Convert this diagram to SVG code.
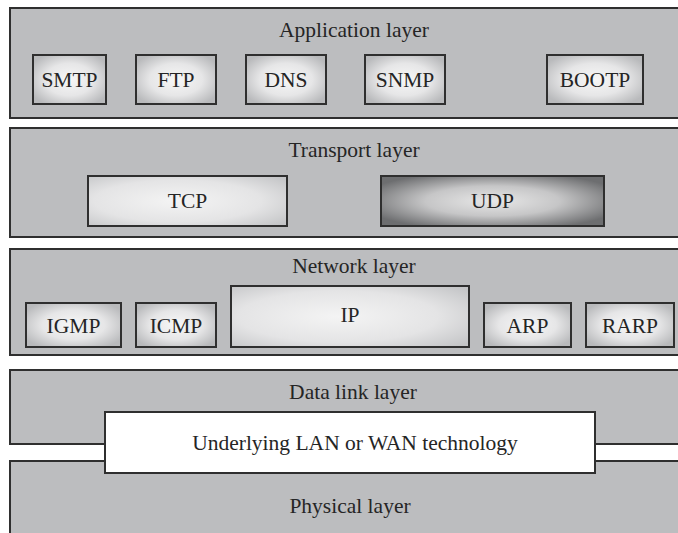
<svg xmlns="http://www.w3.org/2000/svg" width="678" height="533" viewBox="0 0 678 533">
<style>
.layer{fill:#bcbdbf;stroke:#2f2f2f;stroke-width:2}
.box{stroke:#2f2f2f;stroke-width:2}
.t{font-family:"Liberation Serif","Times New Roman",serif;font-size:21.5px;fill:#252525;text-anchor:middle}
.l{font-family:"Liberation Serif","Times New Roman",serif;font-size:21.5px;fill:#252525;text-anchor:middle}
</style>
<defs>
<radialGradient id="g1" cx="0.5" cy="0.5" r="0.6">
<stop offset="0" stop-color="#f7f7f7"/>
<stop offset="0.55" stop-color="#e6e6e7"/>
<stop offset="1" stop-color="#b9babc"/>
</radialGradient>
<radialGradient id="gw" cx="0.45" cy="0.5" r="0.7">
<stop offset="0" stop-color="#f4f4f4"/>
<stop offset="0.6" stop-color="#e4e4e5"/>
<stop offset="1" stop-color="#c4c5c7"/>
</radialGradient>
<radialGradient id="gd" cx="0.5" cy="0.5" r="0.6">
<stop offset="0" stop-color="#e8e8e8"/>
<stop offset="0.5" stop-color="#c6c6c7"/>
<stop offset="1" stop-color="#6d6e70"/>
</radialGradient>
</defs>
<rect width="678" height="533" fill="#ffffff"/>

<g id="application-layer">
<rect class="layer" x="10" y="8" width="690" height="110"/>
<text class="t" x="354" y="37">Application layer</text>
</g>
<g id="smtp"><rect class="box" fill="url(#g1)" x="33" y="55" width="73" height="49"/><text class="l" x="69.5" y="87">SMTP</text></g>
<g id="ftp"><rect class="box" fill="url(#g1)" x="136" y="55" width="80" height="49"/><text class="l" x="176" y="87">FTP</text></g>
<g id="dns"><rect class="box" fill="url(#g1)" x="246" y="55" width="80" height="49"/><text class="l" x="286" y="87">DNS</text></g>
<g id="snmp"><rect class="box" fill="url(#g1)" x="365" y="55" width="80" height="49"/><text class="l" x="405" y="87">SNMP</text></g>
<g id="bootp"><rect class="box" fill="url(#g1)" x="547" y="55" width="96" height="49"/><text class="l" x="595" y="87">BOOTP</text></g>

<g id="transport-layer">
<rect class="layer" x="10" y="128" width="690" height="109"/>
<text class="t" x="354" y="157">Transport layer</text>
</g>
<g id="tcp"><rect class="box" fill="url(#gw)" x="88" y="176" width="199" height="50"/><text class="l" x="187.5" y="208">TCP</text></g>
<g id="udp"><rect class="box" fill="url(#gd)" x="381" y="176" width="223" height="50"/><text class="l" x="492.5" y="208">UDP</text></g>

<g id="network-layer">
<rect class="layer" x="10" y="249" width="690" height="106"/>
<text class="t" x="354" y="273">Network layer</text>
</g>
<g id="igmp"><rect class="box" fill="url(#g1)" x="26" y="303" width="95" height="44"/><text class="l" x="73.5" y="333">IGMP</text></g>
<g id="icmp"><rect class="box" fill="url(#g1)" x="136" y="303" width="80" height="44"/><text class="l" x="176" y="333">ICMP</text></g>
<g id="ip"><rect class="box" fill="url(#gw)" x="231" y="286" width="238" height="61"/><text class="l" x="350" y="322">IP</text></g>
<g id="arp"><rect class="box" fill="url(#g1)" x="484" y="303" width="87" height="44"/><text class="l" x="527.5" y="333">ARP</text></g>
<g id="rarp"><rect class="box" fill="url(#g1)" x="586" y="303" width="88" height="44"/><text class="l" x="630" y="333">RARP</text></g>

<g id="data-link-layer">
<rect class="layer" x="10" y="370" width="690" height="74"/>
<text class="t" x="353" y="399">Data link layer</text>
</g>
<g id="physical-layer">
<rect class="layer" x="10" y="461" width="690" height="90"/>
<text class="t" x="350" y="513">Physical layer</text>
</g>
<g id="underlying-technology">
<rect class="box" fill="#ffffff" x="105" y="412" width="490" height="61"/>
<text class="t" x="355" y="450">Underlying LAN or WAN technology</text>
</g>
</svg>
